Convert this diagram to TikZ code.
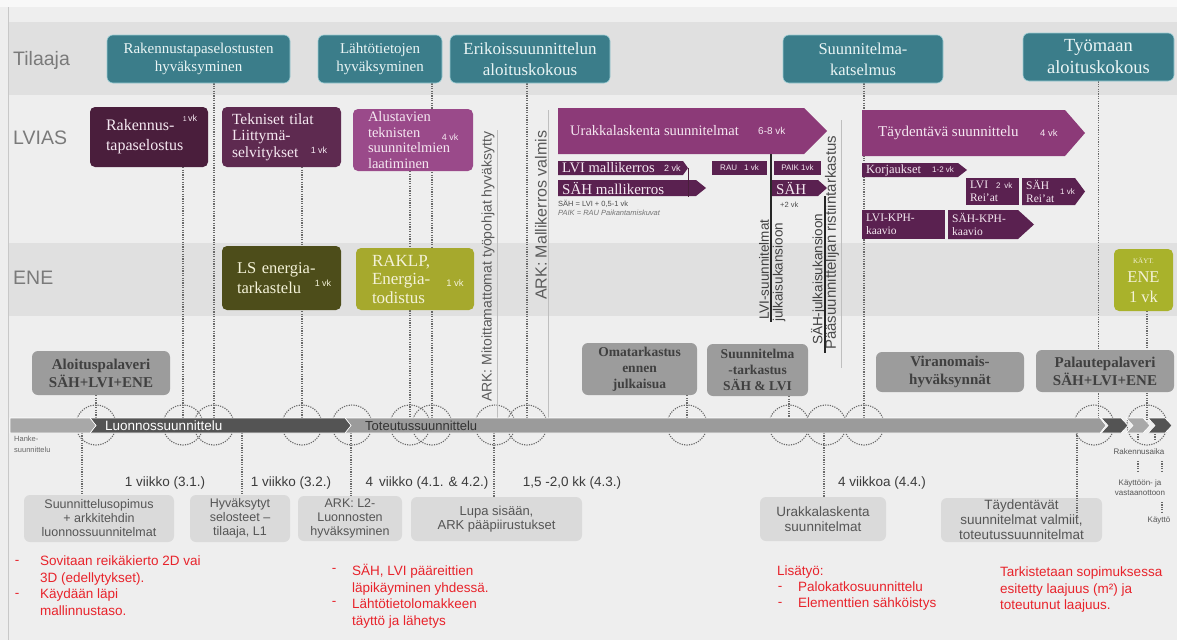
\documentclass[tikz,border=0pt]{standalone}
\usepackage{fontspec}
\setmainfont{Liberation Serif}
\newfontfamily\sansf{Liberation Sans}
\usetikzlibrary{calc}
\pgfdeclarelayer{bg}
\pgfsetlayers{bg,main}
\definecolor{bgc}{HTML}{EEEEEE}
\definecolor{topc}{HTML}{F8F8F8}
\definecolor{bandc}{HTML}{E0E0E0}
\definecolor{framec}{HTML}{C8C8C8}
\definecolor{tealc}{HTML}{3B7D8A}
\definecolor{tealedge}{HTML}{9CCDD4}
\definecolor{tealtxt}{HTML}{EAF5F5}
\definecolor{purA}{HTML}{4A1E3C}
\definecolor{purB}{HTML}{5E2A50}
\definecolor{purC}{HTML}{9A4A8A}
\definecolor{purD}{HTML}{8C3A78}
\definecolor{purE}{HTML}{5A2150}
\definecolor{ptxt}{HTML}{F5E8F1}
\definecolor{oliveA}{HTML}{4D4D1A}
\definecolor{oliveB}{HTML}{A6A92D}
\definecolor{oliveC}{HTML}{A9B22B}
\definecolor{otxt}{HTML}{F4F2D8}
\definecolor{grayA}{HTML}{9C9C9C}
\definecolor{grayAt}{HTML}{404040}
\definecolor{grayL}{HTML}{DADADA}
\definecolor{grayLt}{HTML}{555555}
\definecolor{redt}{HTML}{E8232B}
\definecolor{labt}{HTML}{7A7A7A}
\definecolor{dotc}{HTML}{6A6A6A}
\definecolor{durt}{HTML}{3C3C3C}
\definecolor{rott}{HTML}{5A5A5A}
\definecolor{barL}{HTML}{A8A8A8}
\definecolor{barD}{HTML}{545454}
\definecolor{barM}{HTML}{9B9B9B}
\newcommand{\fsz}[2]{\fontsize{#1}{#2}\selectfont}
\tikzset{
  lab/.style={text=labt, font=\sansf\fsz{19.5}{22}, inner sep=0pt, anchor=west},
  tealbox/.style={fill=tealc, draw=tealedge, line width=0.6pt, rounded corners=6pt, text=tealtxt, align=center, inner sep=0pt},
  pbox/.style={rounded corners=5pt, text=ptxt, align=left, inner sep=0pt},
  ptext/.style={text=ptxt, inner sep=0pt, anchor=west},
  vk/.style={text=ptxt, font=\sansf\fsz{9}{10}, inner sep=0pt},
  gbox/.style={fill=grayA, rounded corners=6pt, text=grayAt, align=center, inner sep=0pt},
  lbox/.style={fill=grayL, rounded corners=6pt, text=grayLt, align=center, inner sep=0pt, font=\sansf\fsz{12.5}{14}},
  vline/.style={draw=dotc, dash pattern=on 1.2pt off 1.2pt, line width=1.2pt},
  ring/.style={draw=dotc, dash pattern=on 1.2pt off 1.2pt, line width=1.1pt},
  rtxt/.style={text=redt, font=\sansf\fsz{13.5}{16.5}, align=left, inner sep=0pt, anchor=north west},
  dur/.style={text=durt, font=\sansf\fsz{13.5}{15}, inner sep=0pt},
  rotl/.style={rotate=90, anchor=west, inner sep=0pt, text=rott},
  sm/.style={text=grayLt, font=\sansf\fsz{8}{10}, inner sep=0pt, align=center},
  solidl/.style={draw=black!25, line width=0.8pt},
  blackl/.style={draw=black!85, line width=1.3pt},
}
\begin{document}
\begin{tikzpicture}[x=1pt,y=-1pt]
\useasboundingbox (0,0) rectangle (1177,640);
\begin{pgfonlayer}{bg}
\fill[bgc] (0,0) rectangle (1177,640);
\fill[topc] (0,0) rectangle (1177,7);
\fill[bandc] (8,22) rectangle (1177,95);
\fill[bandc] (8,243) rectangle (1177,316);
\draw[framec, line width=0.8pt] (8,7) -- (8,640);
\end{pgfonlayer}

% lane labels
\node[lab] (labT) at (13,60) {Tilaaja};
\node[lab] (labL) at (13,138) {LVIAS};
\node[lab] (labE) at (13,278) {ENE};

% Tilaaja boxes
\node[tealbox, minimum width=183pt, minimum height=48pt, font=\fsz{15}{18}] (T1) at (198.5,59) {Rakennustapaselostusten\\hyväksyminen};
\node[tealbox, minimum width=124pt, minimum height=48pt, font=\fsz{15}{18}] (T2) at (380,59) {Lähtötietojen\\hyväksyminen};
\node[tealbox, minimum width=160pt, minimum height=48pt, font=\fsz{17}{21}] (T3) at (530,59) {Erikoissuunnittelun\\aloituskokous};
\node[tealbox, minimum width=160pt, minimum height=48pt, font=\fsz{16.5}{21}] (T4) at (863,59) {Suunnitelma-\\katselmus};
\node[tealbox, minimum width=151pt, minimum height=48pt, font=\fsz{18.5}{22}] (T5) at (1098.5,57) {Työmaan\\aloituskokous};

% LVIAS boxes
\node[pbox, fill=purA, minimum width=118pt, minimum height=60pt, text width=86pt, font=\fsz{16}{20}] (P1) at (149,137) {Rakennus-\\tapaselostus};
\node[vk] (P1vk) at (190,118) {{\fsz{7}{8}1}\,vk};
\node[pbox, fill=purB, minimum width=119pt, minimum height=60pt, text width=99pt, font=\fsz{15.5}{16.5}] (P2) at (281.5,137) {Tekniset tilat\\Liittymä-\\selvitykset};
\node[vk] (P2vk) at (319,150) {1 vk};
\node[pbox, fill=purC, minimum width=120pt, minimum height=62pt, text width=90pt, font=\fsz{14.5}{15.5}] (P3) at (413,140) {Alustavien\\teknisten\\suunnitelmien\\laatiminen};
\node[vk] (P3vk) at (450,137) {4 vk};

% Urakkalaskenta arrow
\fill[purD] (558,108) -- (804,108) -- (827,131) -- (804,154) -- (558,154) -- cycle;
\node[ptext, font=\fsz{14.5}{16}] (UL) at (570,131) {Urakkalaskenta suunnitelmat};
\node[vk, anchor=west, font=\sansf\fsz{10}{11}] (ULvk) at (758,131) {6-8 vk};
\coordinate (ULb) at (771,154);

\fill[purE] (558,161) -- (683,161) -- (688,168) -- (683,175) -- (558,175) -- cycle;
\node[ptext, font=\fsz{14.5}{15}] (LVIm) at (562,168) {LVI mallikerros};
\node[vk, anchor=west, font=\sansf\fsz{9}{10}] (LVImvk) at (664,168) {2 vk};
\fill[purE] (558,180) -- (696,180) -- (706,188) -- (696,196) -- (558,196) -- cycle;
\node[ptext, font=\fsz{15}{16}] (SAHm) at (562,188) {SÄH mallikerros};
\coordinate (LVImE) at (688,168);
\coordinate (LVImF) at (688,197);
\draw[draw=purA, line width=1pt] (LVImE) -- (LVImF);
\node[inner sep=0pt, anchor=west, text=black!70, font=\sansf\fsz{7.5}{8}] (eq1) at (558,204) {SÄH = LVI + 0,5-1 vk};
\node[inner sep=0pt, anchor=west, text=black!55, font=\sansf\itshape\fsz{7.5}{8}] (eq2) at (558,213) {PAIK = RAU Paikantamiskuvat};

\node[fill=purE, minimum width=55pt, minimum height=14pt, inner sep=0pt, text=ptxt, font=\sansf\fsz{8}{9}] (RAU) at (739.5,168) {RAU\hspace{7pt}1 vk};
\node[fill=purE, minimum width=47pt, minimum height=14pt, inner sep=0pt, text=ptxt, font=\sansf\fsz{8}{9}] (PAIK) at (797.5,168) {PAIK 1vk};
\fill[purE] (772,180) -- (818,180) -- (827,188) -- (818,196) -- (772,196) -- cycle;
\node[ptext, font=\fsz{15}{16}] (SAHs) at (776,188) {SÄH};
\node[inner sep=0pt, anchor=west, text=black!70, font=\sansf\fsz{7.5}{8}] (SAHvk) at (780,205) {+2 vk};
\coordinate (SAHb) at (825,196);

% Taydentava
\fill[purD] (862,110) -- (1065,110) -- (1085,133) -- (1065,156) -- (862,156) -- cycle;
\node[ptext, font=\fsz{15}{16}] (TS) at (878,133) {Täydentävä suunnittelu};
\node[vk, anchor=west, font=\sansf\fsz{9.5}{10}] (TSvk) at (1040,133) {4 vk};
\fill[purE] (862,163) -- (958,163) -- (967,170) -- (958,177) -- (862,177) -- cycle;
\node[ptext, font=\fsz{12.5}{13}] (KOR) at (866,170) {Korjaukset};
\node[vk, anchor=west, font=\sansf\fsz{8}{9}] (KORvk) at (932,170) {1-2 vk};
\node[fill=purE, minimum width=53pt, minimum height=27pt, inner sep=0pt, text=ptxt, text width=45pt, align=left, font=\fsz{11.5}{13}] (LVIR) at (992.5,191.5) {LVI\hspace{8pt}{\sansf\fsz{8}{9}2 vk}\\Rei'at};
\fill[purE] (1022,178) -- (1075,178) -- (1085,191.5) -- (1075,205) -- (1022,205) -- cycle;
\node[ptext, align=left, font=\fsz{11.5}{13}] (SAHR) at (1026,191.5) {SÄH\\Rei'at};
\node[vk, anchor=west, font=\sansf\fsz{8}{9}] (SAHRvk) at (1060,192) {1 vk};
\node[fill=purE, minimum width=83pt, minimum height=29pt, inner sep=0pt, text=ptxt, text width=75pt, align=left, font=\fsz{11.5}{13}] (LVIK) at (903.5,224.5) {LVI-KPH-\\kaavio};
\fill[purE] (948,210) -- (1018,210) -- (1034,224.5) -- (1018,239) -- (948,239) -- cycle;
\node[ptext, align=left, font=\fsz{11.5}{13}] (SAHK) at (952,224.5) {SÄH-KPH-\\kaavio};

% ENE boxes
\node[pbox, fill=oliveA, text=otxt, minimum width=119pt, minimum height=64pt, text width=89pt, font=\fsz{16.5}{20}] (LS) at (281.5,278) {LS energia-\\tarkastelu};
\node[vk, text=otxt] (LSvk) at (323,283) {1 vk};
\node[pbox, fill=oliveB, text=otxt, minimum width=118pt, minimum height=62pt, text width=86pt, font=\fsz{17}{18.5}] (RK) at (415,279) {RAKLP,\\Energia-\\todistus};
\node[vk, text=otxt, font=\sansf\fsz{9.5}{10}] (RKvk) at (455,283) {1 vk};
\node[pbox, fill=oliveC, text=otxt, align=center, minimum width=59pt, minimum height=62pt, font=\fsz{16.5}{19.5}] (KY) at (1143.5,280) {{\fsz{7}{9}KÄYT.}\\ENE\\1 vk};

% rotated texts
\node[rotl, font=\sansf\fsz{14}{15}] (ARK1) at (488,402) {ARK: Mitoittamattomat työpohjat hyväksytty};
\node[rotl, font=\sansf\fsz{16}{17}] (ARK2) at (541,300) {ARK: Mallikerros valmis};
\node[rotl, text=black!75, font=\sansf\fsz{13.5}{14}] (LVIs) at (764,320) {LVI-suunnitelmat};
\node[rotl, text=black!75, font=\sansf\fsz{13.5}{14}] (LVIj) at (779,322) {julkaisukansioon};
\node[rotl, text=black!75, font=\sansf\fsz{13.5}{14}] (SAHj) at (818,345) {SÄH-julkaisukansioon};
\node[rotl, text=black!70, font=\sansf\fsz{15}{16}] (PST) at (832,350) {Pääsuunnittelijan ristiintarkastus};

% gray boxes
\node[gbox, minimum width=138pt, minimum height=44pt, font=\bfseries\fsz{15}{18}] (G1) at (101,373) {Aloituspalaveri\\SÄH+LVI+ENE};
\node[gbox, minimum width=115pt, minimum height=52pt, font=\bfseries\fsz{13.5}{16}] (G2) at (639.5,369) {Omatarkastus\\ennen\\julkaisua};
\node[gbox, minimum width=101pt, minimum height=52pt, font=\bfseries\fsz{13.5}{16}] (G3) at (757.5,370) {Suunnitelma\\-tarkastus\\SÄH \& LVI};
\node[gbox, minimum width=148pt, minimum height=40pt, font=\bfseries\fsz{15}{18}] (G4) at (950,372) {Viranomais-\\hyväksynnät};
\node[gbox, minimum width=138pt, minimum height=42pt, font=\bfseries\fsz{15}{18}] (G5) at (1105,371) {Palautepalaveri\\SÄH+LVI+ENE};

% light boxes
\node[lbox, minimum width=150pt, minimum height=47pt] (L1) at (99,518.5) {Suunnittelusopimus\\+ arkkitehdin\\luonnossuunnitelmat};
\node[lbox, minimum width=100pt, minimum height=47pt] (L2) at (240,518.5) {Hyväksytyt\\selosteet –\\tilaaja, L1};
\node[lbox, minimum width=104pt, minimum height=45pt] (L3) at (350,518.5) {ARK: L2-\\Luonnosten\\hyväksyminen};
\node[lbox, minimum width=171pt, minimum height=44pt, font=\sansf\fsz{13}{14.5}] (L4) at (496.5,519) {Lupa sisään,\\ARK pääpiirustukset};
\node[lbox, minimum width=126pt, minimum height=44pt, font=\sansf\fsz{13.5}{15}] (L5) at (823,519) {Urakkalaskenta\\suunnitelmat};
\node[lbox, minimum width=161pt, minimum height=44pt, font=\sansf\fsz{13.5}{15}] (L6) at (1021.5,520) {Täydentävät\\suunnitelmat valmiit,\\toteutussuunnitelmat};

% ring centres
\coordinate (k1) at (96,425);
\coordinate (k2) at (183,425);
\coordinate (k3) at (214,425);
\coordinate (k4) at (302,425);
\coordinate (k5) at (352,425);
\coordinate (k6) at (410,425);
\coordinate (k7) at (432,425);
\coordinate (k8) at (495,425);
\coordinate (k9) at (527,425);
\coordinate (k10) at (687,425);
\coordinate (k11) at (789,425);
\coordinate (k12) at (826,425);
\coordinate (k13) at (864,425);
\coordinate (k14) at (1094,425);
\coordinate (k15) at (1147,425);
% below-bar line feet
\coordinate (b1) at (82,433);
\coordinate (b2) at (242,433);
\coordinate (b3) at (351,433);
\coordinate (b4) at (494,433);
\coordinate (b5) at (824,433);
\coordinate (b6) at (1077,433);
\coordinate (b6e) at (1077,517);

\begin{pgfonlayer}{bg}
\foreach \k in {k1,k2,k3,k4,k5,k6,k7,k8,k9,k10,k11,k12,k13,k14,k15}
  \draw[ring] (\k) circle[radius=20pt];
\draw[vline] (k1 |- G1.south) -- (k1);
\draw[vline] (k2 |- P1.south) -- (k2);
\draw[vline] (k3 |- T1.south) -- (k3);
\draw[vline] (k4 |- P2.south) -- (k4);
\draw[vline] (k6 |- P3.south) -- (k6);
\draw[vline] (k7 |- T2.south) -- (k7);
\draw[vline] (k9 |- T3.south) -- (k9);
\draw[vline] (k10 |- G2.south) -- (k10);
\draw[vline] (k11 |- G3.south) -- (k11);
\draw[vline] (k13 |- T4.south) -- (k13);
\draw[vline] (T5.south) -- (T5.south |- k14);
\draw[vline] (k15 |- KY.south) -- (k15);
\draw[vline] (b1) -- (b1 |- L1.north);
\draw[vline] (b2) -- (b2 |- L2.north);
\draw[vline] (b3) -- (b3 |- L3.north);
\draw[vline] (b4) -- (b4 |- L4.north);
\draw[vline] (b5) -- (b5 |- L5.north);
\draw[solidl] (497,130) -- (497,420);
\draw[solidl] (548,110) -- (548,420);
\draw[solidl] (841,120) -- (841,368);
\end{pgfonlayer}
\draw[vline] (b6) -- (b6e);

% black markers
\coordinate (ULe) at (771,322);
\coordinate (SAHe) at (825,353);
\draw[blackl] (ULb) -- (ULe);
\draw[blackl] (SAHb) -- (SAHe);

% timeline bar
\fill[barM, draw=white, line width=0.6pt] (345,418) -- (1100,418) -- (1106,425.5) -- (1100,433) -- (345,433) -- (351,425.5) -- cycle;
\fill[barD, draw=white, line width=0.6pt] (90,418) -- (345,418) -- (351,425.5) -- (345,433) -- (90,433) -- (96,425.5) -- cycle;
\fill[barL, draw=white, line width=0.6pt] (10,418) -- (90,418) -- (96,425.5) -- (90,433) -- (10,433) -- cycle;
\fill[barD, draw=white, line width=0.6pt] (1101,418) -- (1121,418) -- (1128,425.5) -- (1121,433) -- (1101,433) -- (1108,425.5) -- cycle;
\fill[barL, draw=white, line width=0.6pt] (1126,418) -- (1143,418) -- (1150,425.5) -- (1143,433) -- (1126,433) -- (1133,425.5) -- cycle;
\fill[barD, draw=white, line width=0.6pt] (1148,418) -- (1165,418) -- (1172,425.5) -- (1165,433) -- (1148,433) -- (1155,425.5) -- cycle;
\node[inner sep=0pt, anchor=west, text=white, font=\sansf\fsz{13.5}{14}] (LuT) at (105,425.5) {Luonnossuunnittelu};
\node[inner sep=0pt, anchor=west, text=black!80, font=\sansf\fsz{13}{14}] (ToT) at (365,425.5) {Toteutussuunnittelu};
\node[inner sep=0pt, anchor=north west, align=left, text=black!60, font=\sansf\fsz{7.5}{10.5}] (HS) at (14,436) {Hanke-\\suunnittelu};

% durations
\node[dur] (D1) at (165,483) {1 viikko (3.1.)};
\node[dur] (D2) at (291,483) {1 viikko (3.2.)};
\node[dur] (D3) at (427,483) {4\, viikko (4.1. \& 4.2.)};
\node[dur] (D4) at (572,483) {1,5 -2,0 kk (4.3.)};
\node[dur] (D5) at (882,483) {4 viikkoa (4.4.)};

% right side small texts
\node[sm] (RA) at (1139,452) {Rakennusaika};
\node[sm] (KV) at (1140,488) {Käyttöön- ja\\vastaanottoon};
\node[sm] (KA) at (1159,521) {Käyttö};
\coordinate (s1a) at (1138,434); \coordinate (s1b) at (1138,441);
\coordinate (s2a) at (1155,434); \coordinate (s2b) at (1155,441);
\coordinate (s3a) at (1138,461); \coordinate (s3b) at (1138,472);
\coordinate (s4a) at (1162,461); \coordinate (s4b) at (1162,472);
\coordinate (s5a) at (1162,502); \coordinate (s5b) at (1162,513);
\draw[vline] (s1a) -- (s1b);
\draw[vline] (s2a) -- (s2b);
\draw[vline] (s3a) -- (s3b);
\draw[vline] (s4a) -- (s4b);
\draw[vline] (s5a) -- (s5b);

% red notes
\node[rtxt, anchor=center] (R1d1) at (17,562) {-};
\node[rtxt, anchor=center] (R1d2) at (17,595) {-};
\node[rtxt] (R1) at (40,556) {Sovitaan reikäkierto 2D vai\\3D (edellytykset).\\Käydään läpi\\mallinnustaso.};
\node[rtxt, anchor=center] (R2d1) at (334,570) {-};
\node[rtxt, anchor=center] (R2d2) at (334,603) {-};
\node[rtxt] (R2) at (352,564) {SÄH, LVI pääreittien\\läpikäyminen yhdessä.\\Lähtötietolomakkeen\\täyttö ja lähetys};
\node[rtxt, anchor=west] (R3h) at (777,572) {Lisätyö:};
\node[rtxt, anchor=center] (R3d1) at (780,588) {-};
\node[rtxt, anchor=center] (R3d2) at (780,604) {-};
\node[rtxt, font=\sansf\fsz{13.5}{16}] (R3) at (798,582) {Palokatkosuunnittelu\\Elementtien sähköistys};
\node[rtxt] (R4) at (1000,567) {Tarkistetaan sopimuksessa\\esitetty laajuus (m²) ja\\toteutunut laajuus.};
\end{tikzpicture}
\end{document}
